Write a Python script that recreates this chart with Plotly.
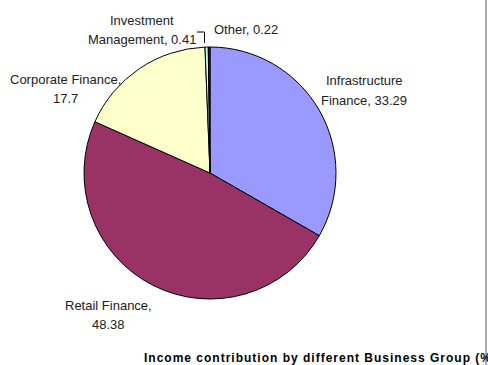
import plotly.graph_objects as go

names = ["Infrastructure<br>Finance", "Retail Finance", "Corporate Finance", "Investment<br>Management", "Other"]
seps = [", ", ",<br>", ",<br>", ", ", ", "]
values = [33.29, 48.38, 17.7, 0.41, 0.22]
colors = ["#9999FF", "#993366", "#FFFFCC", "#CCFFFF", "#660066"]
# label centre positions in pixels (x, y of first line)
label_pos = [(364, 81), (108, 305), (65, 79), (142, 20), (246, 29)]

title = "Income contribution by different Business Group (%)"

W, H = 488, 365

fig = go.Figure(go.Pie(
    labels=[n.replace("<br>", " ") for n in names],
    values=values,
    marker=dict(colors=colors, line=dict(color="black", width=1)),
    sort=False, direction="clockwise", rotation=0,
    textinfo="none", hoverinfo="label+value",
    showlegend=False,
    domain=dict(x=[(210 - 126) / W, (210 + 126) / W], y=[(H - 173 - 126) / H, (H - 173 + 126) / H]),
))

font = dict(family="Liberation Sans, Arial, sans-serif", size=13, color="#222")
for n, s, v, (px, py) in zip(names, seps, values, label_pos):
    lines = (n + s + str(v)).split("<br>")
    for i, ln in enumerate(lines):
        fig.add_annotation(x=px / W, y=1 - (py + i * 19.5) / H, xref="paper", yref="paper",
                           text=ln, showarrow=False, xanchor="center", yanchor="middle", font=font)

# leader line for Investment Management
fig.add_shape(type="line", xref="paper", yref="paper",
              x0=197 / W, y0=1 - 32 / H, x1=204.5 / W, y1=1 - 32 / H, line=dict(color="black", width=1))
fig.add_shape(type="line", xref="paper", yref="paper",
              x0=204.5 / W, y0=1 - 32 / H, x1=204.5 / W, y1=1 - 43 / H, line=dict(color="black", width=1))
# right border
fig.add_shape(type="line", xref="paper", yref="paper",
              x0=486 / W, y0=0, x1=486 / W, y1=1, line=dict(color="#555", width=1))

fig.add_annotation(x=142 / W, y=1 - 358 / H, xref="paper", yref="paper",
                   text="<span style='letter-spacing:1px'><b>" + title + "</b></span>",
                   showarrow=False, xanchor="left", yanchor="middle",
                   font=dict(family="Liberation Sans, Arial, sans-serif", size=12, color="black"))

fig.update_layout(width=W, height=H, margin=dict(l=0, r=0, t=0, b=0),
                  paper_bgcolor="white", plot_bgcolor="white")
fig.write_html("out.html")
